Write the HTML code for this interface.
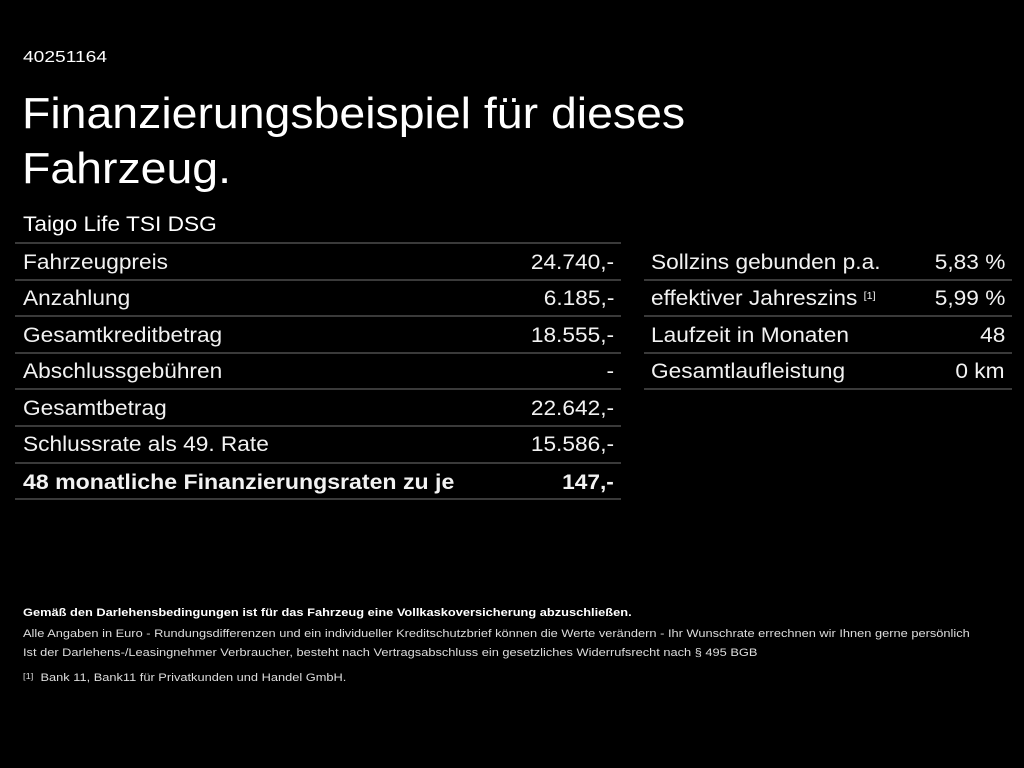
<!DOCTYPE html>
<html><head><meta charset="utf-8"><style>
body{margin:0;width:1024px;height:768px;background:#000;color:#fff;font-family:"Liberation Sans",sans-serif;position:relative;overflow:hidden}
.a{position:absolute;white-space:nowrap;transform-origin:0 0}
.ln{position:absolute;height:2px;background:#3a3a3a}
.r{position:absolute;font-size:21px;line-height:36px;color:#f2f2f2;white-space:nowrap}
.l{transform:scaleX(1.08);transform-origin:0 0}
.v{text-align:right;transform:scaleX(1.08);transform-origin:100% 0}
small{font-size:10px;vertical-align:top;position:relative;top:-2px}
.f{transform:scaleX(1.165)}
</style></head><body>
<div class="a" style="left:23px;top:49px;font-size:16px;transform:scaleX(1.2)">40251164</div>
<div class="a" style="left:22px;top:86px;font-size:44px;line-height:55px;transform:scaleX(1.055)">Finanzierungsbeispiel für dieses<br>Fahrzeug.</div>
<div class="a" style="left:23px;top:213px;font-size:21px;transform:scaleX(1.08)">Taigo Life TSI DSG</div>

<div class="ln" style="left:15px;width:606px;top:242px"></div>
<div class="ln" style="left:15px;width:606px;top:279px"></div>
<div class="ln" style="left:15px;width:606px;top:315px"></div>
<div class="ln" style="left:15px;width:606px;top:352px"></div>
<div class="ln" style="left:15px;width:606px;top:388px"></div>
<div class="ln" style="left:15px;width:606px;top:425px"></div>
<div class="ln" style="left:15px;width:606px;top:462px"></div>
<div class="ln" style="left:15px;width:606px;top:498px"></div>

<div class="r l" style="left:23px;top:245px">Fahrzeugpreis</div><div class="r v" style="right:410px;top:245px">24.740,-</div>
<div class="r l" style="left:23px;top:281px">Anzahlung</div><div class="r v" style="right:410px;top:281px">6.185,-</div>
<div class="r l" style="left:23px;top:318px">Gesamtkreditbetrag</div><div class="r v" style="right:410px;top:318px">18.555,-</div>
<div class="r l" style="left:23px;top:354px">Abschlussgebühren</div><div class="r v" style="right:410px;top:354px">-</div>
<div class="r l" style="left:23px;top:391px">Gesamtbetrag</div><div class="r v" style="right:410px;top:391px">22.642,-</div>
<div class="r l" style="left:23px;top:427px">Schlussrate als 49. Rate</div><div class="r v" style="right:410px;top:427px">15.586,-</div>
<div class="r l" style="left:23px;top:465px;font-weight:bold;transform:scaleX(1.1)">48 monatliche Finanzierungsraten zu je</div><div class="r v" style="right:410px;top:465px;font-weight:bold">147,-</div>

<div class="ln" style="left:644px;width:368px;top:279px"></div>
<div class="ln" style="left:644px;width:368px;top:315px"></div>
<div class="ln" style="left:644px;width:368px;top:352px"></div>
<div class="ln" style="left:644px;width:368px;top:388px"></div>
<div class="r l" style="left:651px;top:245px">Sollzins gebunden p.a.</div><div class="r v" style="right:19px;top:245px">5,83 %</div>
<div class="r l" style="left:651px;top:281px">effektiver Jahreszins <small>[1]</small></div><div class="r v" style="right:19px;top:281px">5,99 %</div>
<div class="r l" style="left:651px;top:318px">Laufzeit in Monaten</div><div class="r v" style="right:19px;top:318px">48</div>
<div class="r l" style="left:651px;top:354px">Gesamtlaufleistung</div><div class="r v" style="right:19px;top:354px">0 km</div>

<div class="a f" style="left:23px;top:607px;font-size:11px;font-weight:bold">Gemäß den Darlehensbedingungen ist für das Fahrzeug eine Vollkaskoversicherung abzuschließen.</div>
<div class="a f" style="left:23px;top:628px;font-size:11px;color:#ddd">Alle Angaben in Euro - Rundungsdifferenzen und ein individueller Kreditschutzbrief können die Werte verändern - Ihr Wunschrate errechnen wir Ihnen gerne persönlich</div>
<div class="a f" style="left:23px;top:647px;font-size:11px;color:#ddd">Ist der Darlehens-/Leasingnehmer Verbraucher, besteht nach Vertragsabschluss ein gesetzliches Widerrufsrecht nach § 495 BGB</div>
<div class="a f" style="left:23px;top:672px;font-size:11px;color:#ddd"><span style="font-size:8px;vertical-align:top">[1]</span>&nbsp; Bank 11, Bank11 für Privatkunden und Handel GmbH.</div>
</body></html>
